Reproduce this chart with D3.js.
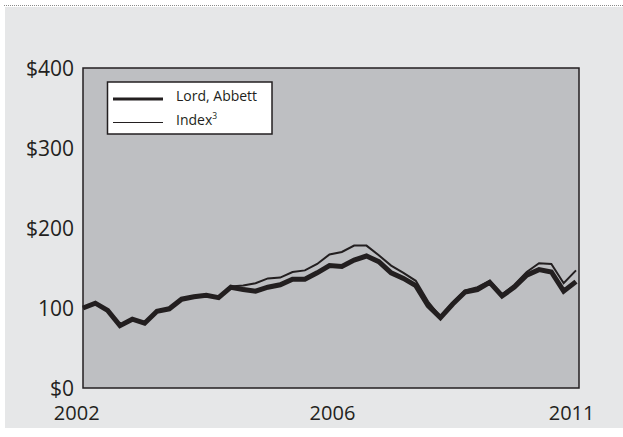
<!DOCTYPE html>
<html>
<head>
<meta charset="utf-8">
<script src="https://cdn.jsdelivr.net/npm/d3@7"></script>
<style>
  body { margin: 0; background: #fff; }
  text { font-family: "Open Sans", "Noto Sans", sans-serif; fill: #231f20; }
</style>
</head>
<body>
<svg width="623" height="437"></svg>
<script>
// quarterly growth of $100
var lordAbbett = [100, 106, 97, 78, 86, 81, 96, 99, 111, 114, 116, 113, 126, 123, 121, 126, 129, 136, 136, 144,
    153, 152, 160, 165, 158, 144, 137, 128, 103, 88, 105, 120, 123, 132, 115, 126, 141, 148, 145, 121, 133]
var indexVals = [100, 106, 97, 78, 86, 81, 96, 99, 111, 114, 116, 113, 127, 128, 131, 137, 138, 145, 147, 155,
    167, 170, 178, 178, 166, 153, 144, 134, 108, 89, 107, 122, 126, 134, 117, 129, 145, 156, 155, 131, 147]

var yTicks = [0, 100, 200, 300, 400]
var yTickLabels = ["$0", "100", "$200", "$300", "$400"]
// where the year labels sit, in quarter steps from the first point
var xTickPos = [-0.55, 20.2, 39.6]
var xTickLabels = ["2002", "2006", "2011"]

var legendNames = ["Lord, Abbett", "Index"]

var svg = d3.select("svg")

var plot = { left: 83, top: 68, right: 579, bottom: 388 }

// outer gray panel and the dotted rule above it
svg.append("rect")
    .attr("x", 5).attr("y", 7)
    .attr("width", 618).attr("height", 421)
    .attr("fill", "#e6e7e8")
svg.append("line")
    .attr("x1", 4).attr("x2", 623)
    .attr("y1", 5.5).attr("y2", 5.5)
    .attr("stroke", "#8a8a8a")
    .attr("stroke-width", 1)
    .attr("stroke-dasharray", "1,1")

var xScale = d3.scaleLinear()
    .domain([0, lordAbbett.length - 1])
    .range([plot.left, 576])

var yScale = d3.scaleLinear()
    .domain([0, 400])
    .range([plot.bottom, plot.top])

svg.append("rect")
    .attr("x", plot.left).attr("y", plot.top)
    .attr("width", plot.right - plot.left)
    .attr("height", plot.bottom - plot.top)
    .attr("fill", "#bebfc2")
    .attr("stroke", "#231f20")
    .attr("stroke-width", 1.5)

var yAxis = d3.axisLeft(yScale)
    .tickValues(yTicks)
    .tickSize(0)
    .tickPadding(9)
    .tickFormat(function (d, i) { return yTickLabels[i] })

var xAxis = d3.axisBottom(xScale)
    .tickValues(xTickPos)
    .tickSize(0)
    .tickPadding(18)
    .tickFormat(function (d, i) { return xTickLabels[i] })

var gy = svg.append("g")
    .attr("transform", "translate(" + plot.left + ",0)")
    .call(yAxis)
gy.select(".domain").remove()
gy.selectAll("text")
    .style("font-size", "21px")
    .attr("fill", "#2b2829")
    .attr("dy", "0.36em")

var gx = svg.append("g")
    .attr("transform", "translate(0," + plot.bottom + ")")
    .call(xAxis)
gx.select(".domain").remove()
gx.selectAll("text")
    .style("font-size", "20px")
    .attr("fill", "#2b2829")

var lineGen = d3.line()
    .x(function (d, i) { return xScale(i) })
    .y(function (d) { return yScale(d) })

svg.append("path")
    .datum(lordAbbett)
    .attr("d", lineGen)
    .attr("fill", "none")
    .attr("stroke", "#231f20")
    .attr("stroke-width", 5)
    .attr("stroke-linejoin", "miter")

svg.append("path")
    .datum(indexVals)
    .attr("d", lineGen)
    .attr("fill", "none")
    .attr("stroke", "#231f20")
    .attr("stroke-width", 2)

// legend
var legend = svg.append("g")
legend.append("rect")
    .attr("x", 107.5).attr("y", 82)
    .attr("width", 164.5).attr("height", 52)
    .attr("fill", "#fff")
    .attr("stroke", "#231f20")
    .attr("stroke-width", 1.5)

legend.append("line")
    .attr("x1", 113).attr("x2", 163)
    .attr("y1", 99).attr("y2", 99)
    .attr("stroke", "#231f20").attr("stroke-width", 3)
legend.append("line")
    .attr("x1", 113).attr("x2", 163)
    .attr("y1", 122.5).attr("y2", 122.5)
    .attr("stroke", "#231f20").attr("stroke-width", 1)

legend.append("text")
    .attr("x", 176).attr("y", 100.5)
    .style("font-size", "14px")
    .text(legendNames[0])
var idx = legend.append("text")
    .attr("x", 176).attr("y", 125)
    .style("font-size", "14px")
    .text(legendNames[1])
idx.append("tspan")
    .attr("dy", -6)
    .style("font-size", "8.5px")
    .text("3")
</script>
</body>
</html>
